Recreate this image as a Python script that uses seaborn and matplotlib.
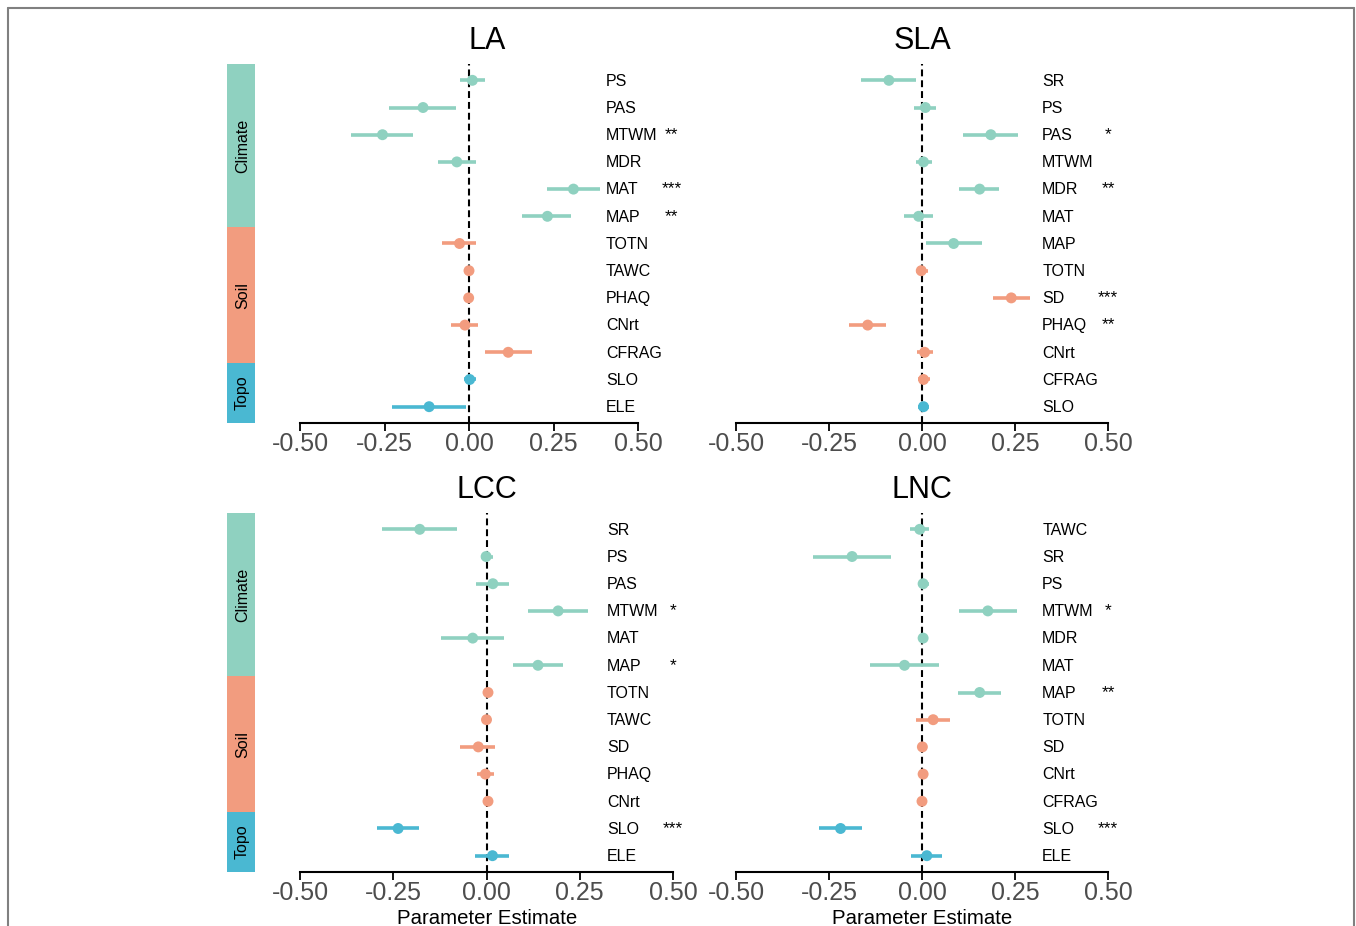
import numpy as np
import pandas as pd
import seaborn as sns
import matplotlib.pyplot as plt
from matplotlib.lines import Line2D

W, H = 1356, 926

# colours of the three predictor groups
pal = {'Climate': '#8fd1c0', 'Soil': '#f29c7f', 'Topo': '#4ab8d2'}

# ---- LA ----
la_vars = ['PS', 'PAS', 'MTWM', 'MDR', 'MAT', 'MAP', 'TOTN', 'TAWC', 'PHAQ', 'CNrt', 'CFRAG', 'SLO', 'ELE']
la_grp = ['Climate'] * 6 + ['Soil'] * 5 + ['Topo'] * 2
la_est = [0.010, -0.136, -0.256, -0.036, 0.309, 0.232, -0.028, 0.000, -0.001, -0.012, 0.116, 0.002, -0.118]
la_lo = [-0.028, -0.236, -0.348, -0.092, 0.231, 0.158, -0.079, -0.005, -0.006, -0.052, 0.046, -0.015, -0.229]
la_hi = [0.047, -0.038, -0.165, 0.022, 0.387, 0.303, 0.022, 0.005, 0.004, 0.028, 0.187, 0.020, -0.008]
la_sig = ['', '', '**', '', '***', '**', '', '', '', '', '', '', '']

# ---- SLA ----
sla_vars = ['SR', 'PS', 'PAS', 'MTWM', 'MDR', 'MAT', 'MAP', 'TOTN', 'SD', 'PHAQ', 'CNrt', 'CFRAG', 'SLO']
sla_grp = ['Climate'] * 7 + ['Soil'] * 5 + ['Topo']
sla_est = [-0.089, 0.009, 0.185, 0.004, 0.155, -0.009, 0.085, -0.002, 0.240, -0.146, 0.007, 0.004, 0.004]
sla_lo = [-0.163, -0.021, 0.110, -0.017, 0.099, -0.048, 0.010, -0.016, 0.191, -0.196, -0.013, -0.012, -0.010]
sla_hi = [-0.016, 0.038, 0.258, 0.027, 0.207, 0.030, 0.161, 0.015, 0.291, -0.096, 0.030, 0.022, 0.020]
sla_sig = ['', '', '*', '', '**', '', '', '', '***', '**', '', '', '']

# ---- LCC ----
lcc_vars = ['SR', 'PS', 'PAS', 'MTWM', 'MAT', 'MAP', 'TOTN', 'TAWC', 'SD', 'PHAQ', 'CNrt', 'SLO', 'ELE']
lcc_grp = ['Climate'] * 6 + ['Soil'] * 5 + ['Topo'] * 2
lcc_est = [-0.179, -0.001, 0.017, 0.192, -0.037, 0.138, 0.004, 0.000, -0.022, -0.003, 0.004, -0.237, 0.016]
lcc_lo = [-0.279, -0.016, -0.029, 0.111, -0.123, 0.072, -0.002, -0.005, -0.070, -0.025, -0.002, -0.293, -0.031]
lcc_hi = [-0.079, 0.017, 0.061, 0.273, 0.047, 0.205, 0.010, 0.005, 0.024, 0.020, 0.010, -0.181, 0.061]
lcc_sig = ['', '', '', '*', '', '*', '', '', '', '', '', '***', '']

# ---- LNC ----
lnc_vars = ['TAWC', 'SR', 'PS', 'MTWM', 'MDR', 'MAT', 'MAP', 'TOTN', 'SD', 'CNrt', 'CFRAG', 'SLO', 'ELE']
lnc_grp = ['Climate'] * 7 + ['Soil'] * 4 + ['Topo'] * 2
lnc_est = [-0.006, -0.188, 0.003, 0.177, 0.003, -0.047, 0.155, 0.030, 0.001, 0.003, 0.000, -0.219, 0.013]
lnc_lo = [-0.033, -0.294, -0.012, 0.100, -0.003, -0.141, 0.096, -0.017, -0.005, -0.003, -0.006, -0.276, -0.029]
lnc_hi = [0.020, -0.083, 0.020, 0.255, 0.009, 0.046, 0.213, 0.074, 0.007, 0.009, 0.006, -0.161, 0.054]
lnc_sig = ['', '', '', '*', '', '', '**', '', '', '', '', '***', '']

ticks = [-0.5, -0.25, 0, 0.25, 0.5]
tick_labels = ['-0.50', '-0.25', '0.00', '0.25', '0.50']

sns.set_style('white')
plt.rcParams['font.family'] = ['Liberation Sans', 'DejaVu Sans']
plt.rcParams['text.color'] = 'black'


def px_rect(x0, y0, x1, y1):
    return [x0 / W, 1 - y1 / H, (x1 - x0) / W, (y1 - y0) / H]


def panel(fig, rect, title, title_x, title_y, names, grp, est, lo, hi, sig,
          label_x, star_x, strip=None, xlabel=False):
    n = len(names)
    df = pd.DataFrame({'name': names, 'grp': grp, 'est': est, 'lo': lo, 'hi': hi, 'sig': sig})
    df['pos'] = np.arange(n, 0, -1)
    ax = fig.add_axes(px_rect(*rect))
    ax.axvline(0, color='black', lw=1.5, dashes=(3.3, 1.9), zorder=1)
    ax.hlines(df['pos'], df['lo'], df['hi'], colors=df['grp'].map(pal), lw=2.6, zorder=2)
    sns.scatterplot(data=df, x='est', y='pos', hue='grp', palette=pal, s=62,
                    linewidth=0, legend=False, ax=ax, zorder=3)
    for _, r in df.iterrows():
        ax.text(label_x, r['pos'] - 0.03, r['name'], ha='left', va='center',
                fontsize=11.5, color='black', clip_on=False)
        if r['sig']:
            ax.text(star_x, r['pos'], r['sig'], ha='center', va='center',
                    fontsize=12.5, color='black', clip_on=False)
    ax.set_xlim(-0.5, 0.5)
    ax.set_ylim(0.4, n + 0.6)
    ax.set_xticks(ticks)
    ax.set_xticklabels(tick_labels)
    ax.set_yticks([])
    ax.set_xlabel('')
    ax.set_ylabel('')
    for s in ['left', 'top', 'right']:
        ax.spines[s].set_visible(False)
    ax.spines['bottom'].set_linewidth(1.5)
    ax.spines['bottom'].set_color('black')
    ax.tick_params(axis='x', bottom=True, length=5.5, width=1.3, color='black',
                   labelsize=18, labelcolor='#4d4d4d', pad=1)
    ax.patch.set_alpha(0)
    fig.text(title_x / W, 1 - title_y / H, title, ha='center', va='baseline',
             fontsize=22, color='black')
    if xlabel:
        fig.text(title_x / W, 0.002, 'Parameter Estimate', ha='center', va='baseline',
                 fontsize=14.7, color='black')

    if strip is not None:
        sax = fig.add_axes(px_rect(strip[0], rect[1], strip[1], rect[3]))
        counts = df.groupby('grp', sort=False).size()
        top = n + 0.6
        for g, c in counts.items():
            bot = top - c
            if g == list(counts.index)[-1]:
                bot = 0.4
            sax.bar(0, top - bot, bottom=bot, width=1, color=pal[g], linewidth=0)
            sax.text(0.05, (top + bot) / 2, g, rotation=90, ha='center', va='center',
                     fontsize=11.5, color='black')
            top = bot
        sax.set_xlim(-0.5, 0.5)
        sax.set_ylim(0.4, n + 0.6)
        sax.axis('off')
    return ax


fig = plt.figure(figsize=(W / 100, H / 100), dpi=100)

panel(fig, (300, 64, 638, 423), 'LA', 487, 49, la_vars, la_grp, la_est, la_lo, la_hi, la_sig,
      label_x=0.405, star_x=0.60, strip=(227, 255))
panel(fig, (736, 64, 1108, 423), 'SLA', 922, 49, sla_vars, sla_grp, sla_est, sla_lo, sla_hi, sla_sig,
      label_x=0.323, star_x=0.50)
panel(fig, (300, 513, 673, 872), 'LCC', 487, 498, lcc_vars, lcc_grp, lcc_est, lcc_lo, lcc_hi, lcc_sig,
      label_x=0.323, star_x=0.50, strip=(227, 255), xlabel=True)
panel(fig, (736, 513, 1108, 872), 'LNC', 922, 498, lnc_vars, lnc_grp, lnc_est, lnc_lo, lnc_hi, lnc_sig,
      label_x=0.323, star_x=0.50, xlabel=True)

# thin grey frame (left, top, right)
frame = dict(color='#808080', lw=1.5, transform=fig.transFigure)
fig.add_artist(Line2D([8 / W, 8 / W], [0, 1 - 7.5 / H], **frame))
fig.add_artist(Line2D([8 / W, 1354 / W], [1 - 7.5 / H, 1 - 7.5 / H], **frame))
fig.add_artist(Line2D([1354 / W, 1354 / W], [0, 1 - 7.5 / H], **frame))

fig.savefig('out.png', dpi=100)
